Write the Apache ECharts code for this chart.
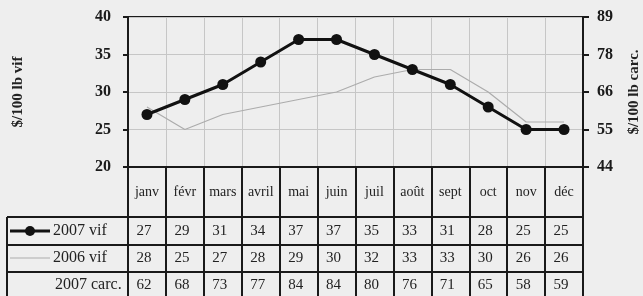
<!DOCTYPE html>
<html lang="fr">
<head>
<meta charset="utf-8" />
<title>Prix vif et carcasse</title>
<script src="https://cdn.jsdelivr.net/npm/echarts@6/dist/echarts.min.js"></script>
<style>
  html, body { margin: 0; padding: 0; background: #eeeeee; }
  #chart { width: 643px; height: 296px; }
</style>
</head>
<body>
<div id="chart"></div>
<script>
// données
const months = ['janv', 'févr', 'mars', 'avril', 'mai', 'juin', 'juil', 'août', 'sept', 'oct', 'nov', 'déc'];
const vif2007 = [27, 29, 31, 34, 37, 37, 35, 33, 31, 28, 25, 25];
const vif2006 = [28, 25, 27, 28, 29, 30, 32, 33, 33, 30, 26, 26];
const carc2007 = [62, 68, 73, 77, 84, 84, 80, 76, 71, 65, 58, 59];
const rightTicks = ['44', '55', '66', '78', '89'];

const serif = '"Liberation Serif", "DejaVu Serif", serif';
const chart = echarts.init(document.getElementById('chart'));

const option = {
  backgroundColor: '#eeeeee',
  animation: false,
  grid: {
    left: 128, right: 60, top: 17, bottom: 129,
    outerBoundsMode: 'none',
    containLabel: false,
    show: true, borderColor: '#1a1a1a', borderWidth: 2, backgroundColor: 'transparent'
  },
  xAxis: {
    type: 'category',
    data: months,
    boundaryGap: true,
    axisLine: { lineStyle: { color: '#1a1a1a', width: 2 } },
    // traits verticaux du tableau
    axisTick: { show: true, interval: 0, length: 135, lineStyle: { color: '#1a1a1a', width: 2 } },
    axisLabel: { interval: 0, margin: 18, fontFamily: serif, fontSize: 14, color: '#222' },
    splitLine: { show: true, interval: 0, lineStyle: { color: '#c6c6c6', width: 1 } }
  },
  yAxis: [{
    type: 'value',
    min: 20, max: 40, interval: 5,
    name: '$/100 lb vif',
    nameLocation: 'middle',
    nameGap: 102,
    nameTextStyle: { fontFamily: serif, fontWeight: 'bold', fontSize: 15, color: '#222' },
    axisLine: { show: true, lineStyle: { color: '#1a1a1a', width: 2 } },
    axisTick: { show: true, length: 5, lineStyle: { color: '#1a1a1a', width: 2 } },
    axisLabel: { margin: 17, fontFamily: serif, fontWeight: 'bold', fontSize: 16, color: '#1a1a1a' },
    splitLine: { show: true, lineStyle: { color: '#c6c6c6', width: 1 } }
  }, {
    type: 'value',
    position: 'right',
    min: 20, max: 40, interval: 5,
    name: '$/100 lb carc.',
    nameLocation: 'middle',
    nameGap: 44,
    nameTextStyle: { fontFamily: serif, fontWeight: 'bold', fontSize: 15, color: '#222' },
    axisLine: { show: true, lineStyle: { color: '#1a1a1a', width: 2 } },
    axisTick: { show: true, length: 6, lineStyle: { color: '#1a1a1a', width: 2 } },
    axisLabel: {
      margin: 14, fontFamily: serif, fontWeight: 'bold', fontSize: 16, color: '#1a1a1a',
      formatter: function (v) { return rightTicks[Math.round((v - 20) / 5)]; }
    },
    splitLine: { show: false }
  }],
  series: [{
    name: '2006 vif',
    type: 'line',
    data: vif2006,
    symbol: 'none',
    lineStyle: { color: '#acacac', width: 1.2 },
    z: 2
  }, {
    name: '2007 vif',
    type: 'line',
    data: vif2007,
    symbol: 'circle',
    symbolSize: 11,
    itemStyle: { color: '#111' },
    lineStyle: { color: '#111', width: 3 },
    z: 3
  }]
};
chart.setOption(option);

// tableau sous le graphique
const tableLeft = 7, tableRight = 583;
const rowTops = [217, 245, 272];
const rowMids = [231, 258, 285];
const rows = [
  { label: '2007 vif', values: vif2007, icon: 'black' },
  { label: '2006 vif', values: vif2006, icon: 'gray' },
  { label: '2007 carc.', values: carc2007, icon: null }
];
const lineStyle = { stroke: '#1a1a1a', lineWidth: 2 };
const els = [];

rowTops.forEach(function (y) {
  els.push({ type: 'line', shape: { x1: tableLeft, y1: y, x2: tableRight + 1, y2: y }, style: lineStyle, z: 10 });
});
els.push({ type: 'line', shape: { x1: tableLeft, y1: rowTops[0], x2: tableLeft, y2: 300 }, style: lineStyle, z: 10 });

rows.forEach(function (row, r) {
  const y = rowMids[r];
  if (row.icon === 'black') {
    els.push({ type: 'line', shape: { x1: 10, y1: y, x2: 50, y2: y }, style: { stroke: '#111', lineWidth: 3 }, z: 10 });
    els.push({ type: 'circle', shape: { cx: 30, cy: y, r: 5 }, style: { fill: '#111' }, z: 11 });
  } else if (row.icon === 'gray') {
    els.push({ type: 'line', shape: { x1: 10, y1: y, x2: 50, y2: y }, style: { stroke: '#acacac', lineWidth: 1.2 }, z: 10 });
  }
  els.push({
    type: 'text', x: row.icon ? 53 : 55, y: y,
    style: { text: row.label, font: '16px ' + serif, fill: '#222', textAlign: 'left', textVerticalAlign: 'middle' },
    z: 10
  });
  row.values.forEach(function (v, i) {
    const cx = chart.convertToPixel({ xAxisIndex: 0 }, i);
    els.push({
      type: 'text', x: cx - 3, y: y,
      style: { text: String(v), font: '15px ' + serif, fill: '#222', textAlign: 'center', textVerticalAlign: 'middle' },
      z: 10
    });
  });
});

chart.setOption({ graphic: els });
</script>
</body>
</html>
